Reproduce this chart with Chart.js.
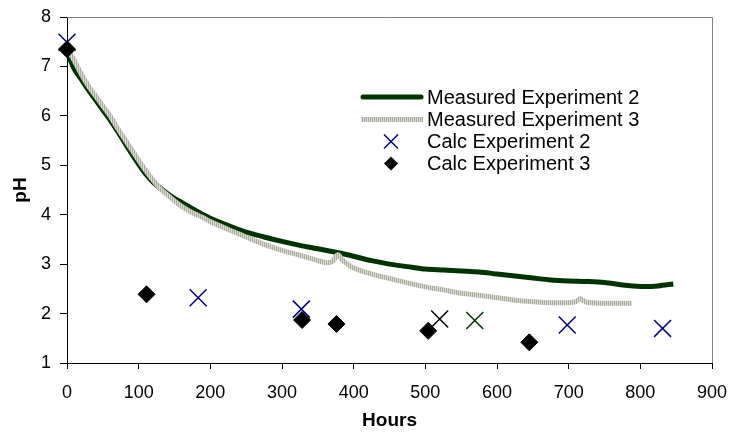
<!DOCTYPE html>
<html>
<head>
<meta charset="utf-8">
<script src="https://cdn.jsdelivr.net/npm/chart.js@4/dist/chart.umd.min.js"></script>
<style>
  body { margin: 0; background: #fff; }
  #wrap { width: 731px; height: 435px; }
</style>
</head>
<body>
<div id="wrap"><canvas id="phChart" width="731" height="435"></canvas></div>
<script>
// measured curves (hours, pH)
const hoursExp2 = [0, 5, 10, 15, 20, 30, 40, 50, 60, 70, 80, 90, 100, 110, 120, 130, 140, 150, 160, 175, 190, 200, 225, 250, 275, 300, 325, 350, 375, 385, 400, 425, 450, 475, 500, 525, 550, 575, 600, 625, 650, 675, 700, 725, 750, 775, 800, 825, 846];
const phExp2 = [7.4, 7.12, 6.95, 6.84, 6.74, 6.52, 6.32, 6.12, 5.92, 5.7, 5.47, 5.24, 5.02, 4.82, 4.66, 4.54, 4.43, 4.33, 4.25, 4.12, 4.0, 3.93, 3.78, 3.65, 3.55, 3.46, 3.38, 3.31, 3.24, 3.21, 3.16, 3.07, 3.0, 2.95, 2.9, 2.88, 2.86, 2.84, 2.8, 2.76, 2.72, 2.68, 2.66, 2.65, 2.63, 2.58, 2.55, 2.56, 2.6];

const hoursExp3 = [0, 5, 10, 20, 30, 40, 50, 60, 70, 80, 90, 100, 110, 120, 130, 140, 150, 160, 175, 190, 200, 225, 250, 275, 300, 325, 350, 362, 370, 378, 385, 400, 425, 450, 475, 500, 525, 550, 575, 600, 625, 650, 675, 700, 710, 716, 725, 750, 788];
const phExp3 = [7.35, 7.25, 7.12, 6.84, 6.6, 6.4, 6.2, 6.0, 5.76, 5.54, 5.32, 5.1, 4.89, 4.7, 4.53, 4.4, 4.28, 4.17, 4.04, 3.94, 3.86, 3.7, 3.55, 3.4, 3.28, 3.18, 3.07, 3.03, 3.05, 3.19, 3.07, 2.92, 2.8, 2.71, 2.62, 2.54, 2.48, 2.41, 2.37, 2.32, 2.27, 2.24, 2.22, 2.22, 2.24, 2.3, 2.23, 2.21, 2.21];

// calculated points
const calcHours2 = [0, 183, 327, 520, 569, 698, 831];
const calcPh2 = [7.49, 2.32, 2.09, 1.89, 1.86, 1.77, 1.7];
const calcColors2 = ['#000080', '#000080', '#000080', '#000000', '#003300', '#000080', '#000080'];

const calcHours3 = [0, 111, 328, 376, 504, 645];
const calcPh3 = [7.35, 2.39, 1.87, 1.79, 1.65, 1.42];

const xTicks = [0, 100, 200, 300, 400, 500, 600, 700, 800, 900];
const yTicks = [1, 2, 3, 4, 5, 6, 7, 8];

const labels = ['Measured Experiment 2', 'Measured Experiment 3', 'Calc Experiment 2', 'Calc Experiment 3'];

function toPoints(xs, ys) {
  return xs.map((x, i) => ({ x: x, y: ys[i] }));
}

// vertical stripes for the grey curve
const stripe = document.createElement('canvas');
stripe.width = 2;
stripe.height = 1;
const sctx = stripe.getContext('2d');
sctx.fillStyle = '#a8a89c';
sctx.fillRect(0, 0, 1, 1);
sctx.fillStyle = '#dcdcd2';
sctx.fillRect(1, 0, 1, 1);
const ctx = document.getElementById('phChart').getContext('2d');
const stripePattern = ctx.createPattern(stripe, 'repeat');

const FONT = '"Liberation Sans", Arial, sans-serif';

// grey frame on top and right of plot area
const framePlugin = {
  id: 'frame',
  beforeDatasetsDraw(chart) {
    const a = chart.chartArea;
    const c = chart.ctx;
    c.save();
    c.strokeStyle = '#808080';
    c.lineWidth = 1;
    c.beginPath();
    c.moveTo(a.left, a.top + 0.5);
    c.lineTo(a.right + 0.5, a.top + 0.5);
    c.lineTo(a.right + 0.5, a.bottom);
    c.stroke();
    c.restore();
  }
};

// legend inside the plot
const legendPlugin = {
  id: 'innerLegend',
  afterDatasetsDraw(chart) {
    const c = chart.ctx;
    const x0 = 361, x1 = 423, tx = 427;
    const rows = [97, 119.5, 141.5, 163.5];
    c.save();
    c.font = '20px ' + FONT;
    c.fillStyle = '#000';
    c.textBaseline = 'middle';
    c.textAlign = 'left';
    labels.forEach((l, i) => c.fillText(l, tx, rows[i] + 1));

    c.lineCap = 'round';
    c.strokeStyle = '#003300';
    c.lineWidth = 5;
    c.beginPath(); c.moveTo(x0 + 2, rows[0]); c.lineTo(x1 - 2, rows[0]); c.stroke();
    c.lineCap = 'butt';
    c.strokeStyle = stripePattern;
    c.beginPath(); c.moveTo(x0, rows[1]); c.lineTo(x1, rows[1]); c.stroke();

    const mx = 391;
    c.strokeStyle = '#000080';
    c.lineWidth = 1.5;
    c.beginPath();
    c.moveTo(mx - 7, rows[2] - 7); c.lineTo(mx + 7, rows[2] + 7);
    c.moveTo(mx + 7, rows[2] - 7); c.lineTo(mx - 7, rows[2] + 7);
    c.stroke();

    c.fillStyle = '#000';
    c.beginPath();
    c.moveTo(mx, rows[3] - 7); c.lineTo(mx + 7, rows[3]);
    c.lineTo(mx, rows[3] + 7); c.lineTo(mx - 7, rows[3]);
    c.closePath();
    c.fill();
    c.restore();
  }
};

new Chart(ctx, {
  type: 'scatter',
  data: {
    datasets: [
      {
        label: labels[0],
        data: toPoints(hoursExp2, phExp2),
        showLine: true,
        borderColor: '#003300',
        borderWidth: 5,
        pointRadius: 0,
        tension: 0.3,
        order: 4
      },
      {
        label: labels[1],
        data: toPoints(hoursExp3, phExp3),
        showLine: true,
        borderColor: stripePattern,
        borderWidth: 5,
        pointRadius: 0,
        tension: 0.3,
        order: 3
      },
      {
        label: labels[2],
        data: toPoints(calcHours2, calcPh2),
        clip: false,
        pointStyle: 'crossRot',
        pointRadius: 12,
        pointBorderWidth: 1.5,
        pointBorderColor: calcColors2,
        pointBackgroundColor: calcColors2,
        order: 2
      },
      {
        label: labels[3],
        data: toPoints(calcHours3, calcPh3),
        clip: false,
        pointStyle: 'rectRot',
        pointRadius: 8.5,
        pointBorderWidth: 1,
        pointBorderColor: '#000',
        pointBackgroundColor: '#000',
        order: 1
      }
    ]
  },
  options: {
    responsive: false,
    animation: false,
    layout: { padding: { top: 17, right: 19, left: 0, bottom: 0 } },
    plugins: {
      legend: { display: false },
      tooltip: { enabled: false }
    },
    scales: {
      x: {
        type: 'linear',
        min: 0,
        max: 900,
        afterFit(scale) {
          scale.height = 72;
          scale.paddingLeft = 0;
          scale.paddingRight = 0;
        },
        afterBuildTicks(scale) { scale.ticks = xTicks.map(v => ({ value: v })); },
        border: { display: true, color: '#000', width: 1 },
        grid: { display: true, drawOnChartArea: false, drawTicks: true, tickLength: 6, color: '#000' },
        ticks: { color: '#000', padding: 13, maxRotation: 0, font: { family: FONT, size: 18 } },
        title: { display: true, text: 'Hours', color: '#000', padding: { top: 3, bottom: 3 }, font: { family: FONT, size: 19, weight: 'bold' } }
      },
      y: {
        type: 'linear',
        min: 1,
        max: 8,
        afterFit(scale) {
          scale.width = 67;
          scale.paddingTop = 0;
          scale.paddingBottom = 0;
        },
        afterBuildTicks(scale) { scale.ticks = yTicks.map(v => ({ value: v })); },
        border: { display: true, color: '#000', width: 1 },
        grid: { display: true, drawOnChartArea: false, drawTicks: true, tickLength: 7, color: '#000' },
        ticks: { color: '#000', padding: 9, font: { family: FONT, size: 18 } },
        title: { display: true, text: 'pH', color: '#000', padding: { top: 9, bottom: 9 }, font: { family: FONT, size: 19, weight: 'bold' } }
      }
    }
  },
  plugins: [framePlugin, legendPlugin]
});
</script>
</body>
</html>
